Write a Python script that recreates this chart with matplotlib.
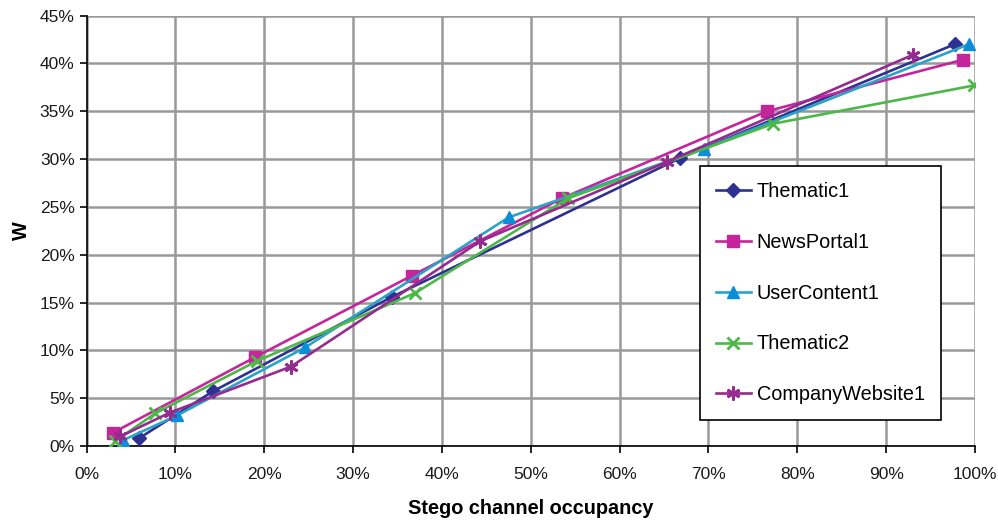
import matplotlib
matplotlib.use("Agg")
import matplotlib.pyplot as plt
from matplotlib.ticker import FuncFormatter

plt.rcParams['font.family'] = ['Liberation Sans', 'DejaVu Sans']

# Data (x and y in %)
thematic1_x = [5.9, 14.2, 34.4, 66.8, 97.7]
thematic1_y = [0.8, 5.7, 15.6, 30.1, 42.0]

newsportal1_x = [3.0, 19.0, 36.6, 53.5, 76.6, 98.7]
newsportal1_y = [1.4, 9.3, 17.8, 25.9, 35.0, 40.4]

usercontent1_x = [4.1, 10.2, 24.6, 47.5, 69.5, 99.3]
usercontent1_y = [0.6, 3.2, 10.3, 23.9, 31.1, 42.0]

thematic2_x = [3.2, 7.7, 19.2, 37.0, 54.2, 77.3, 99.9]
thematic2_y = [0.5, 3.4, 8.9, 16.0, 25.9, 33.7, 37.7]

company1_x = [3.8, 9.4, 23.0, 44.3, 65.3, 93.0]
company1_y = [1.0, 3.5, 8.3, 21.4, 29.7, 40.9]

series = [
    ("Thematic1", thematic1_x, thematic1_y, "#2e3192", "#2e3192", "D", 7),
    ("NewsPortal1", newsportal1_x, newsportal1_y, "#c4259b", "#c4259b", "s", 8),
    ("UserContent1", usercontent1_x, usercontent1_y, "#2aa3c6", "#0b8ed8", "^", 9),
    ("Thematic2", thematic2_x, thematic2_y, "#4cb848", "#4cb848", "x", 8),
    ("CompanyWebsite1", company1_x, company1_y, "#952a8f", "#952a8f", (6, 2, 0), 10),
]

fig = plt.figure(figsize=(9.98, 5.2), dpi=100)
ax = fig.add_axes([0.0867, 0.1423, 0.8903, 0.8277])

for name, xs, ys, lc, mc, mk, ms in series:
    ax.plot(xs, ys, color=lc, lw=1.9, marker=mk, markersize=ms,
            markerfacecolor=mc, markeredgecolor=mc,
            markeredgewidth=2 if mk in ("x", (6, 2, 0)) else 1,
            label=name, zorder=3)

ax.set_xlim(0, 100)
ax.set_ylim(0, 45)
ax.set_xticks(range(0, 101, 10))
ax.set_yticks(range(0, 46, 5))
pct = FuncFormatter(lambda v, p: f"{v:.0f}%")
ax.xaxis.set_major_formatter(pct)
ax.yaxis.set_major_formatter(pct)
ax.tick_params(axis='both', labelsize=12.5, direction='out', length=5, width=1.2,
               color='black', labelcolor='#1a1a1a')
ax.tick_params(axis='x', pad=10)

ax.grid(True, color='#999999', lw=1.8)
ax.set_axisbelow(True)
for s in ('top', 'right'):
    ax.spines[s].set_visible(False)
ax.spines['left'].set_linewidth(1.2)
ax.spines['bottom'].set_linewidth(1.2)

ax.set_xlabel("Stego channel occupancy", fontsize=14.3, fontweight='bold', labelpad=12)
ax.set_ylabel("W", fontsize=14.3, fontweight='bold', labelpad=6)

leg = ax.legend(loc='upper left', bbox_to_anchor=(0.6905, 0.650), fontsize=14.3,
                frameon=True, fancybox=False, edgecolor='black', framealpha=1,
                labelspacing=1.6, handlelength=1.75, handletextpad=0.3,
                borderpad=0.8, borderaxespad=0)
leg.get_frame().set_linewidth(1.2)
leg.set_zorder(5)

fig.savefig("out.png", dpi=100)
